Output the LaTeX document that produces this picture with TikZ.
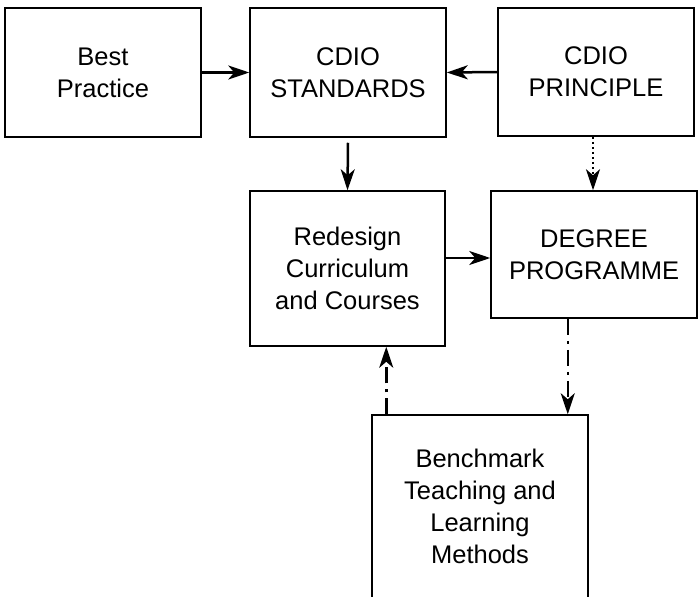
\documentclass[tikz,border=0pt]{standalone}
\usepackage{fontspec}
\setmainfont{Liberation Sans}
\usetikzlibrary{arrows.meta,positioning}

\tikzset{
    block/.style={rectangle, draw, line width=1.5pt, align=center,
        font=\fontsize{25.5}{32}\selectfont, inner sep=0pt},
    link/.style={line width=2.5pt, -{Stealth[length=21pt, width=14pt, inset=6pt]}},
    dotlink/.style={link, dash pattern=on 2.5pt off 2.5pt},
    dashdotlink/.style={link, dash pattern=on 16pt off 6pt on 3pt off 6pt}
}

\begin{document}
\begin{tikzpicture}[x=1pt, y=-1pt]
    \useasboundingbox (0,0) rectangle (699,597);

    % Top row
    \node[block, minimum width=196pt, minimum height=129pt] (best) at (103,72.5) {Best\\Practice};
    \node[block, minimum width=196pt, minimum height=129pt] (standards) at (348,72.5) {CDIO\\STANDARDS};
    \node[block, minimum width=196pt, minimum height=128pt] (principle) at (596,72) {CDIO\\PRINCIPLE};

    % Middle row
    \node[block, minimum width=195pt, minimum height=155pt] (redesign) at (347.5,268.5) {Redesign\\Curriculum\\and Courses};
    \node[block, minimum width=206pt, minimum height=127pt] (degree) at (594,254.5) {DEGREE\\PROGRAMME};

    % Bottom box
    \node[block, minimum width=216pt, minimum height=183pt] (bench) at (480,506.5) {Benchmark\\Teaching and\\Learning\\Methods};

    % Solid arrows
    \draw[link] (best.east) -- (standards.west);
    \draw[link] (principle.west) -- (standards.east);
    \draw[link] ([yshift=-5pt]standards.south) -- (redesign.north);
    \draw[link] (redesign.east |- 0,258) -- (degree.west |- 0,258);

    % Dotted and dash-dotted arrows
    \draw[dotlink] ([xshift=-3pt]principle.south) -- ([xshift=-3pt]principle.south |- degree.north);
    \draw[dashdotlink] ([xshift=15pt]bench.north west) -- ([xshift=15pt]bench.north west |- redesign.south);
    \draw[dashdotlink] ([xshift=-21pt]bench.north east |- degree.south) -- ([xshift=-21pt]bench.north east);
\end{tikzpicture}
\end{document}
